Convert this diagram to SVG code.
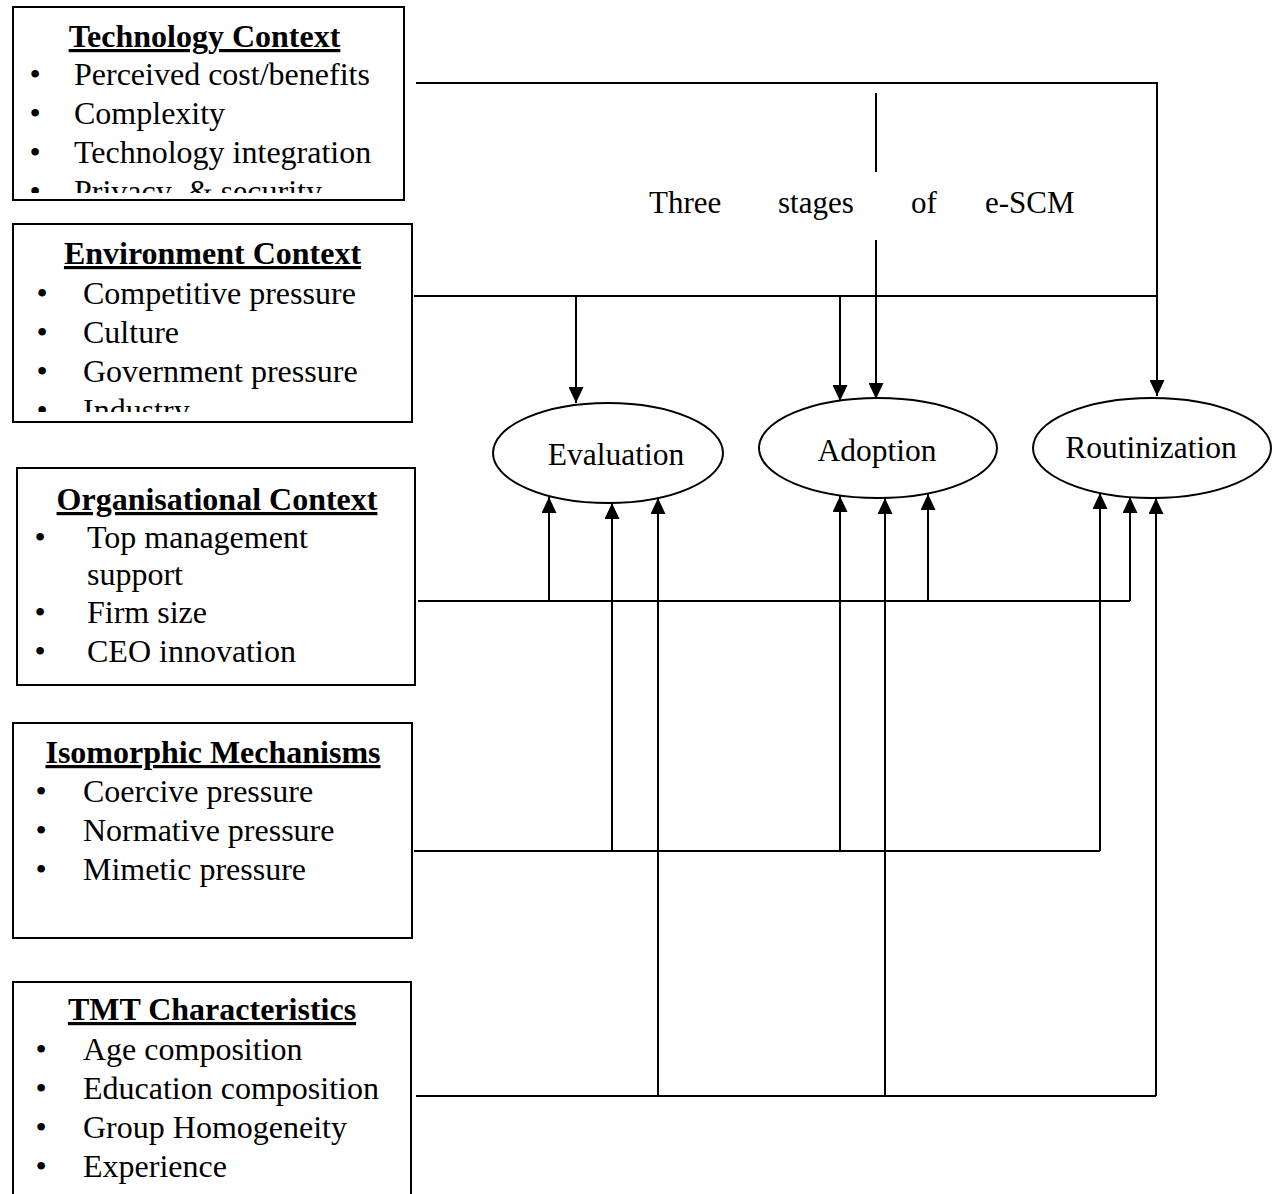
<svg xmlns="http://www.w3.org/2000/svg" width="1273" height="1194" viewBox="0 0 1273 1194">
<style>
.t{font-family:"Liberation Serif","Times New Roman",serif;font-size:32px;fill:#000}
.h{font-weight:bold;text-decoration:underline;text-anchor:middle}
.b{text-anchor:middle}
.box{fill:#fff;stroke:#000;stroke-width:2}
.ell{fill:#fff;stroke:#000;stroke-width:2}
.c{fill:none;stroke:#000;stroke-width:2}
.lbl{font-size:31.5px;text-anchor:middle}
.s3{font-family:"Liberation Serif","Times New Roman",serif;font-size:31px;fill:#000}
</style>
<defs>
<marker id="ah" viewBox="0 0 16 15" markerUnits="userSpaceOnUse" markerWidth="16" markerHeight="15" refX="16" refY="7.5" orient="auto">
<path d="M0,0 L16,7.5 L0,15 Z" fill="#000"/>
</marker>
<clipPath id="clip1"><rect x="13" y="7" width="391" height="186"/></clipPath>
<clipPath id="clip2"><rect x="13" y="224" width="399" height="188"/></clipPath>
</defs>

<g id="connectors">
<path class="c" d="M416,83 H1157 V396" marker-end="url(#ah)"/>
<path class="c" d="M876,93 V172"/>
<path class="c" d="M876,240 V399" marker-end="url(#ah)"/>
<path class="c" d="M414,296 H1157"/>
<path class="c" d="M576,296 V403" marker-end="url(#ah)"/>
<path class="c" d="M840,296 V401" marker-end="url(#ah)"/>
<path class="c" d="M418,601 H1130"/>
<path class="c" d="M549,601 V497" marker-end="url(#ah)"/>
<path class="c" d="M928,601 V494" marker-end="url(#ah)"/>
<path class="c" d="M1130,601 V497" marker-end="url(#ah)"/>
<path class="c" d="M414,851 H1100"/>
<path class="c" d="M612,851 V503" marker-end="url(#ah)"/>
<path class="c" d="M840,851 V496" marker-end="url(#ah)"/>
<path class="c" d="M1100,851 V493" marker-end="url(#ah)"/>
<path class="c" d="M416,1096 H1156"/>
<path class="c" d="M658,1096 V498" marker-end="url(#ah)"/>
<path class="c" d="M885,1096 V498" marker-end="url(#ah)"/>
<path class="c" d="M1156,1096 V498" marker-end="url(#ah)"/>
</g>

<g id="stages-label">
<text class="s3" x="649" y="213">Three</text>
<text class="s3" x="778" y="213">stages</text>
<text class="s3" x="911" y="213">of</text>
<text class="s3" x="985" y="213">e-SCM</text>
</g>

<g id="tech">
<rect class="box" x="13" y="7" width="391" height="193"/>
<text class="t h" x="204.5" y="47">Technology Context</text>
<g clip-path="url(#clip1)">
<text class="t b" x="35" y="85">•</text><text class="t" x="74" y="85">Perceived cost/benefits</text>
<text class="t b" x="35" y="124">•</text><text class="t" x="74" y="124">Complexity</text>
<text class="t b" x="35" y="163">•</text><text class="t" x="74" y="163">Technology integration</text>
<text class="t b" x="35" y="202">•</text><text class="t" x="74" y="202" xml:space="preserve">Privacy  &amp; security</text>
</g>
</g>

<g id="env">
<rect class="box" x="13" y="224" width="399" height="198"/>
<text class="t h" x="212.5" y="264">Environment Context</text>
<g clip-path="url(#clip2)">
<text class="t b" x="42" y="304">•</text><text class="t" x="83" y="304">Competitive pressure</text>
<text class="t b" x="42" y="343">•</text><text class="t" x="83" y="343">Culture</text>
<text class="t b" x="42" y="382">•</text><text class="t" x="83" y="382">Government pressure</text>
<text class="t b" x="42" y="421">•</text><text class="t" x="83" y="421">Industry</text>
</g>
</g>

<g id="org">
<rect class="box" x="17" y="468" width="398" height="217"/>
<text class="t h" x="217" y="510">Organisational Context</text>
<text class="t b" x="40" y="548">•</text><text class="t" x="87" y="548">Top management</text>
<text class="t" x="87" y="585">support</text>
<text class="t b" x="40" y="623">•</text><text class="t" x="87" y="623">Firm size</text>
<text class="t b" x="40" y="662">•</text><text class="t" x="87" y="662">CEO innovation</text>
</g>

<g id="iso">
<rect class="box" x="13" y="723" width="399" height="215"/>
<text class="t h" x="213" y="763">Isomorphic Mechanisms</text>
<text class="t b" x="41" y="802">•</text><text class="t" x="83" y="802">Coercive pressure</text>
<text class="t b" x="41" y="841">•</text><text class="t" x="83" y="841">Normative pressure</text>
<text class="t b" x="41" y="880">•</text><text class="t" x="83" y="880">Mimetic pressure</text>
</g>

<g id="tmt">
<rect class="box" x="13" y="982" width="398" height="230"/>
<text class="t h" x="212" y="1020">TMT Characteristics</text>
<text class="t b" x="41" y="1060">•</text><text class="t" x="83" y="1060">Age composition</text>
<text class="t b" x="41" y="1099">•</text><text class="t" x="83" y="1099">Education composition</text>
<text class="t b" x="41" y="1138">•</text><text class="t" x="83" y="1138">Group Homogeneity</text>
<text class="t b" x="41" y="1177">•</text><text class="t" x="83" y="1177">Experience</text>
</g>

<g id="evaluation">
<ellipse class="ell" cx="608" cy="453" rx="115" ry="50"/>
<text class="t lbl" x="616" y="465">Evaluation</text>
</g>
<g id="adoption">
<ellipse class="ell" cx="878" cy="448" rx="119" ry="50"/>
<text class="t lbl" x="877" y="461">Adoption</text>
</g>
<g id="routinization">
<ellipse class="ell" cx="1152" cy="448" rx="119" ry="50"/>
<text class="t lbl" x="1151" y="458">Routinization</text>
</g>
</svg>
